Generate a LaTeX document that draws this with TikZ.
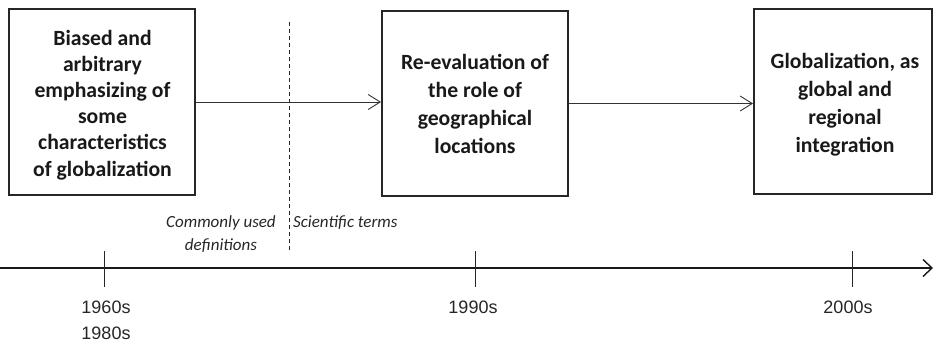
\documentclass[tikz,border=0pt]{standalone}
\usepackage{fontspec}
\setmainfont{Carlito}
\newfontfamily\yearfont{Liberation Sans}
\usetikzlibrary{arrows.meta}
\tikzset{
  stagebox/.style={draw=black!85, line width=2pt, inner sep=0pt},
  stagetext/.style={inner sep=0pt, align=center, anchor=base,
    font=\bfseries\fontsize{21.7}{28}\selectfont, text=black!90},
  link/.style={draw=black!80, line width=0.9pt, -{Straight Barb[length=12pt,width=15pt,line width=0.9pt]}},
  axis/.style={draw=black!90, line width=2.4pt, -{Straight Barb[length=9pt,width=17pt,line width=1.4pt]}},
  tickmark/.style={draw=black!85, line width=0.9pt},
  divider/.style={draw=black!85, line width=0.8pt, dash pattern=on 4pt off 3pt},
  era/.style={font=\itshape\fontsize{17}{23}\selectfont, text=black!85, inner sep=0pt, align=center},
  year/.style={font=\yearfont\fontsize{18}{26}\selectfont, text=black!85, inner sep=0pt, anchor=base, align=center}
}
\begin{document}
\begin{tikzpicture}[x=1pt,y=-1pt]
\useasboundingbox (0,0) rectangle (934,343);
% boxes
\node[stagebox, minimum width=186pt, minimum height=186pt] (b1) at (102,102) {};
\node[stagebox, minimum width=186pt, minimum height=185pt] (b2) at (475,103.5) {};
\node[stagebox, minimum width=178pt, minimum height=185pt] (b3) at (843,101.5) {};
% box texts (anchored at the baseline of the last line)
\node[stagetext, font=\bfseries\fontsize{21.7}{26.2}\selectfont] (b1t) at (102.5,176)
  {Biased and\\arbitrary\\emphasizing of\\some\\characteristics\\of globalization};
\node[stagetext] (b2t) at (475,153)
  {Re-evaluation of\\the role of\\geographical\\locations};
\node[stagetext] (b3t) at (845,152)
  {Globalization, as\\global and\\regional\\integration};
% arrows between boxes
\draw[link] (b1.east) -- (b1.east -| b2.west);
\draw[link] (b2.east) -- (b2.east -| b3.west);
% divider
\coordinate (d0) at (289,22);
\coordinate (d1) at (289,250);
\draw[divider] (d0) -- (d1);
\node[era, anchor=base] (cu) at (221,250) {Commonly used\\definitions};
\node[era, anchor=base west] (st) at (293,227) {Scientific terms};
% timeline
\coordinate (t0) at (0,268);
\coordinate (t1) at (933,268);
\draw[axis] (t0) -- (t1);
\coordinate (k1a) at (104,251); \coordinate (k1b) at (104,287);
\coordinate (k2a) at (475,251); \coordinate (k2b) at (475,287);
\coordinate (k3a) at (852,251); \coordinate (k3b) at (852,287);
\draw[tickmark] (k1a) -- (k1b);
\draw[tickmark] (k2a) -- (k2b);
\draw[tickmark] (k3a) -- (k3b);
\node[year] (y1) at (106,339) {1960s\\1980s};
\node[year] (y2) at (473,313) {1990s};
\node[year] (y3) at (848,313) {2000s};
\end{tikzpicture}
\end{document}
